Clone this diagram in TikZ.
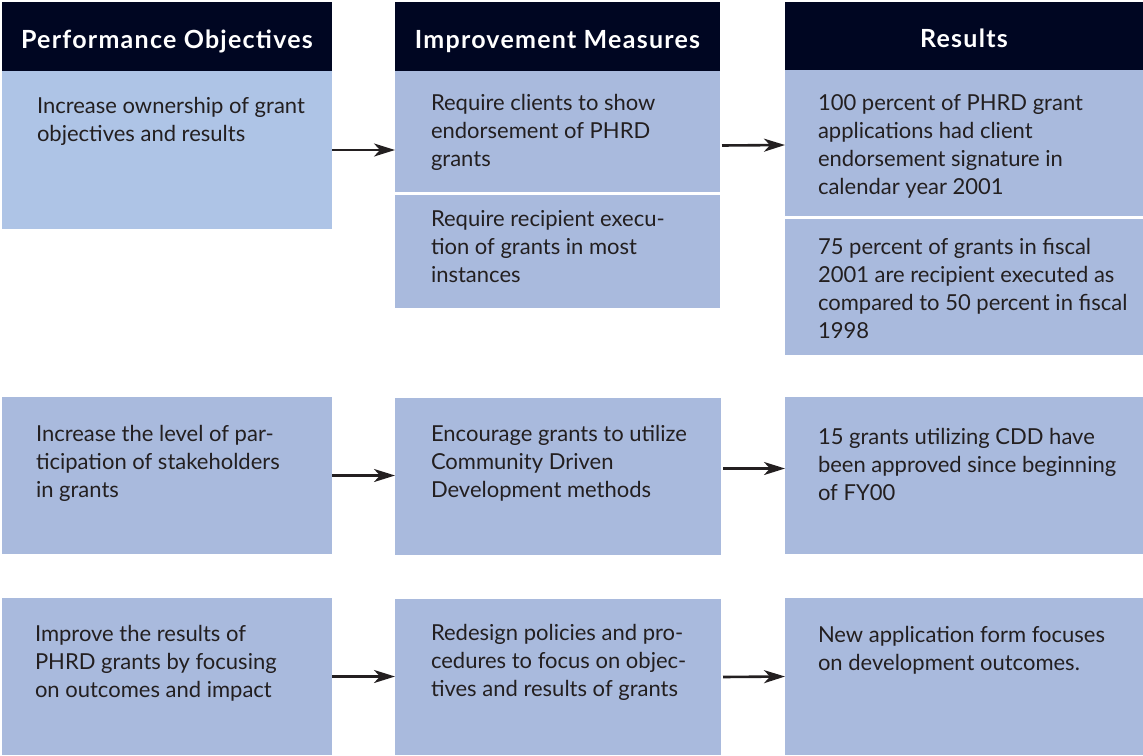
\documentclass[tikz,border=0pt]{standalone}
\usepackage{fontspec}
\setmainfont{Lato}
\newfontfamily\headfont[LetterSpace=5]{Lato}
\usetikzlibrary{arrows.meta,calc}

\definecolor{headnavy}{RGB}{0,6,34}
\definecolor{cellblue}{RGB}{169,186,221}
\definecolor{celllight}{RGB}{174,196,230}
\definecolor{inkgrey}{RGB}{35,31,32}

\tikzset{
  cell/.style={fill=cellblue, draw=none, anchor=north west, inner sep=0pt, outer sep=0pt},
  head/.style={fill=headnavy, text=white, anchor=north west, inner sep=0pt, outer sep=0pt,
    text height=23pt, text depth=0pt,
    font=\headfont\fontsize{25}{29}\selectfont\bfseries},
  body/.style={anchor=north west, align=left, inner sep=0pt, outer sep=0pt, text=inkgrey,
    font=\fontsize{22}{28}\selectfont},
  flow/.style={-{Stealth[length=21pt,width=13pt,inset=6pt]}, line width=2.6pt, draw=inkgrey}
}

\begin{document}
\begin{tikzpicture}[x=1pt,y=-1pt]
\useasboundingbox (0,0) rectangle (1143,755);

% column headers
\node[head, minimum width=330pt, minimum height=69pt] (h1) at (2,2) {Performance Objectives};
\node[head, minimum width=325pt, minimum height=69pt] (h2) at (395,2) {Improvement Measures};
\node[head, minimum width=358pt, minimum height=68pt] (h3) at (785,2) {Results};

% first row
\node[cell, fill=celllight, minimum width=330pt, minimum height=158pt] (r1c1) at (2,71) {};
\node[cell, minimum width=325pt, minimum height=121pt] (r1c2a) at (395,71) {};
\node[cell, minimum width=325pt, minimum height=113pt] (r1c2b) at (395,195) {};
\node[cell, minimum width=358pt, minimum height=146pt] (r1c3a) at (785,70) {};
\node[cell, minimum width=358pt, minimum height=136pt] (r1c3b) at (785,219) {};

% second row
\node[cell, minimum width=330pt, minimum height=157pt] (r2c1) at (2,397) {};
\node[cell, minimum width=326pt, minimum height=157pt] (r2c2) at (395,398) {};
\node[cell, minimum width=358pt, minimum height=157pt] (r2c3) at (785,397) {};

% third row
\node[cell, minimum width=330pt, minimum height=157pt] (r3c1) at (2,598) {};
\node[cell, minimum width=326pt, minimum height=156pt] (r3c2) at (395,599) {};
\node[cell, minimum width=358pt, minimum height=157pt] (r3c3) at (785,598) {};

% cell texts (each begins with a strut: top edge sits 19.6pt above the first baseline)
\node[body] (t11)  at ($(r1c1.north west)+(35,23)$)  {\strut Increase ownership of grant\\objectives and results};
\node[body] (t12a) at ($(r1c2a.north west)+(36,20)$) {\strut Require clients to show\\endorsement of PHRD\\grants};
\node[body] (t12b) at ($(r1c2b.north west)+(36,12)$) {\strut Require recipient execu-\\tion of grants in most\\instances};
\node[body] (t13a) at ($(r1c3a.north west)+(33,21)$) {\strut 100 percent of PHRD grant\\applications had client\\endorsement signature in\\calendar year 2001};
\node[body] (t13b) at ($(r1c3b.north west)+(33,16)$) {\strut 75 percent of grants in fiscal\\2001 are recipient executed as\\compared to 50 percent in fiscal\\1998};

\node[body] (t21) at ($(r2c1.north west)+(34,25)$) {\strut Increase the level of par-\\ticipation of stakeholders\\in grants};
\node[body] (t22) at ($(r2c2.north west)+(36,24)$) {\strut Encourage grants to utilize\\Community Driven\\Development methods};
\node[body] (t23) at ($(r2c3.north west)+(33,28)$) {\strut 15 grants utilizing CDD have\\been approved since beginning\\of FY00};

\node[body] (t31) at ($(r3c1.north west)+(33,24)$) {\strut Improve the results of\\PHRD grants by focusing\\on outcomes and impact};
\node[body] (t32) at ($(r3c2.north west)+(36,22)$) {\strut Redesign policies and pro-\\cedures to focus on objec-\\tives and results of grants};
\node[body] (t33) at ($(r3c3.north west)+(33,25)$) {\strut New application form focuses\\on development outcomes.};

% connectors
\draw[flow] (r1c1.east) -- (r1c1.east -| r1c2a.west);
\draw[flow] ($(r1c2a.east)+(2,14)$) -- ($(r1c3a.west)+(0,2)$);
\draw[flow] (r2c1.east) -- (r2c1.east -| r2c2.west);
\draw[flow] ($(r2c2.east)+(2,-8)$) -- ($(r2c3.west)+(0,-7)$);
\draw[flow] (r3c1.east) -- (r3c1.east -| r3c2.west);
\draw[flow] ($(r3c2.east)+(2,0)$) -- (r3c3.west);
\end{tikzpicture}
\end{document}
